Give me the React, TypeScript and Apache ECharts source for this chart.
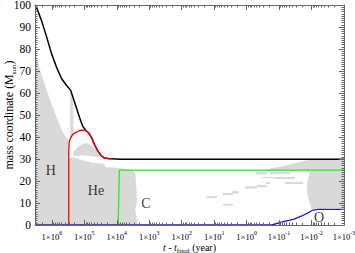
import React, { useEffect, useRef } from 'react';
import * as echarts from 'echarts';

// x value = log10(t - t_final) in years (axis reversed), y = mass coordinate (Msun)
const xMin = -3;
const xMax = 6.52;
const xMajorTicks = [-3, -2, -1, 0, 1, 2, 3, 4, 5, 6];

const totalMass: [number, number][] = [
  [6.52, 99.9], [6.49, 99.6], [6.32, 93.0], [6.16, 85.4], [6.01, 77.9], [5.86, 71.8],
  [5.70, 66.5], [5.55, 63.5], [5.42, 61.2], [5.29, 55.3], [5.14, 48.5], [5.05, 44.9],
  [4.95, 42.9], [4.86, 41.7], [4.77, 39.5], [4.68, 36.3], [4.58, 33.6], [4.49, 31.7],
  [4.40, 30.6], [4.27, 30.2], [4.15, 30.1], [3.90, 29.9], [-3, 29.9],
];
const heCore: [number, number][] = [
  [5.48, 0], [5.48, 34.0], [5.47, 37.2], [5.43, 39.5], [5.35, 41.3], [5.23, 42.4],
  [5.08, 43.1], [4.95, 42.9], [4.86, 41.7], [4.77, 39.5], [4.68, 36.3], [4.58, 33.6],
  [4.49, 31.7], [4.40, 30.6], [4.27, 30.2], [4.15, 30.1],
];
const cCore: [number, number][] = [
  [3.96, 0], [3.92, 24.9], [-3, 24.9],
];
const oCore: [number, number][] = [
  [6.52, 0], [-0.77, 0], [-1.13, 1.5], [-1.44, 2.6], [-1.70, 4.1], [-1.95, 6.0],
  [-2.05, 6.8], [-2.2, 7.1], [-3, 7.1],
];

// convective zones (polygons)
const convH: [number, number][] = [
  [6.52, 77.5], [6.49, 76.6], [6.37, 70.3], [6.22, 63.5], [6.06, 56.7], [5.91, 50.8],
  [5.79, 46.3], [5.69, 42.6], [5.57, 39.9], [5.48, 38.5], [5.48, 0], [6.52, 0],
];
const convKnee: [number, number][] = [
  [5.43, 59.8], [5.40, 61.0], [5.36, 58.5], [5.35, 50.0], [5.34, 40.5], [5.43, 38.8],
];
const convLens: [number, number][] = [
  [5.35, 32.7], [5.20, 35.4], [5.05, 36.7], [4.92, 37.2], [4.77, 35.8], [4.64, 34.0],
  [4.52, 31.7], [4.52, 30.8], [4.71, 31.3], [4.92, 31.7], [5.14, 31.7], [5.32, 31.3],
];
const convHe: [number, number][] = [
  [5.48, 0], [5.48, 30.4], [5.29, 30.4], [4.98, 29.0], [4.68, 28.1], [4.40, 27.7],
  [4.34, 26.3], [4.06, 25.9], [3.75, 25.4], [3.54, 24.9], [3.44, 23.6], [3.41, 18.1],
  [3.38, 11.3], [3.44, 6.8], [3.35, 0],
];
const convLate: [number, number][] = [
  [-0.63, 25.2], [-1.18, 26.8], [-1.64, 28.6], [-1.95, 29.5], [-3, 29.5], [-3, 7.7],
  [-2.57, 7.7], [-2.01, 7.3], [-1.92, 11.3], [-1.86, 15.9], [-1.89, 20.4], [-1.95, 24.0],
  [-1.64, 24.9], [-0.63, 24.9],
];
const convRegions = [convH, convKnee, convLens, convHe, convLate];

// small convective shells: [logt start, logt end, mass low, mass high]
const convDashes: [number, number, number, number][] = [
  [-0.29, -0.63, 23.0, 24.0],
  [0.05, -0.32, 16.6, 17.6],
  [-0.32, -0.63, 17.2, 18.2],
  [-0.60, -0.72, 18.6, 19.6],
  [0.73, 0.42, 13.6, 14.6],
  [0.45, 0.24, 14.4, 15.4],
  [1.22, 0.92, 12.2, 13.2],
  [0.73, 0.42, 8.8, 9.6],
  [-0.72, -1.34, 23.1, 24.0],
  [-0.87, -1.49, 20.9, 21.8],
  [-1.18, -1.74, 18.6, 19.5],
  [-0.47, -0.87, 21.3, 21.8],
];

const regionLabels = [
  { name: 'H', x: 6.03, y: 24.9 },
  { name: 'He', x: 4.64, y: 15.9 },
  { name: 'C', x: 3.10, y: 10.0 },
  { name: 'O', x: -2.23, y: 3.2 },
];

const FONT = 'Liberation Serif';
const GREY = '#d9d9d9';
const AXIS = '#666';

const xMinorTicks: number[] = [];
xMajorTicks.forEach((n) => {
  for (let k = 2; k <= 9; k++) {
    const v = n + Math.log10(k);
    if (v <= xMax) xMinorTicks.push(v);
  }
});

export default function App() {
  const ref = useRef<HTMLDivElement>(null);
  useEffect(() => {
    document.body.style.margin = '0';
    const chart = echarts.init(ref.current!, null, { renderer: 'svg' });
    const xBase = {
      type: 'value' as const,
      min: xMin,
      max: xMax,
      inverse: true,
      gridIndex: 0,
      splitLine: { show: false },
      z: 10,
    };
    const xAxes = [
      {
        ...xBase,
        position: 'bottom',
        axisLine: { show: true, onZero: false, lineStyle: { color: AXIS, width: 1 } },
        axisTick: { show: true, inside: true, length: 5, customValues: xMajorTicks, lineStyle: { color: AXIS } },
        axisLabel: {
          show: true,
          customValues: xMajorTicks,
          margin: 5,
          formatter: (v: number) => `{b|1×10}{s|${Math.round(v)}}`,
          rich: {
            b: { fontFamily: FONT, fontSize: 8.5, color: '#000', lineHeight: 13 },
            s: { fontFamily: FONT, fontSize: 6, color: '#000', verticalAlign: 'top', lineHeight: 13 },
          },
        },
        name: '{i|t} - {i|t}{sub|final} (year)',
        nameLocation: 'middle',
        nameGap: 15,
        nameMoveOverlap: false,
        nameTextStyle: {
          fontFamily: FONT,
          fontSize: 10,
          color: '#000',
          rich: {
            i: { fontFamily: FONT, fontSize: 10, fontStyle: 'italic', color: '#000', lineHeight: 14 },
            sub: { fontFamily: FONT, fontSize: 7, color: '#000', verticalAlign: 'bottom', lineHeight: 14 },
          },
        },
      },
      {
        ...xBase,
        position: 'bottom',
        axisLine: { show: false, onZero: false },
        axisTick: { show: true, inside: true, length: 2.5, customValues: xMinorTicks, lineStyle: { color: AXIS } },
        axisLabel: { show: false },
      },
      {
        ...xBase,
        position: 'top',
        axisLine: { show: true, onZero: false, lineStyle: { color: AXIS, width: 1 } },
        axisTick: { show: true, inside: true, length: 5, customValues: xMajorTicks, lineStyle: { color: AXIS } },
        axisLabel: { show: false },
      },
      {
        ...xBase,
        position: 'top',
        axisLine: { show: false, onZero: false },
        axisTick: { show: true, inside: true, length: 2.5, customValues: xMinorTicks, lineStyle: { color: AXIS } },
        axisLabel: { show: false },
      },
    ];
    const yBase = {
      type: 'value' as const,
      min: 0,
      max: 100,
      interval: 10,
      splitLine: { show: false },
      minorTick: { show: true, splitNumber: 10, length: 2.5, lineStyle: { color: AXIS } },
      axisTick: { show: true, inside: true, length: 5, lineStyle: { color: AXIS } },
      axisLine: { show: true, onZero: false, lineStyle: { color: AXIS, width: 1 } },
      z: 10,
    };
    const yAxes = [
      {
        ...yBase,
        position: 'left',
        axisLabel: { show: true, fontFamily: FONT, fontSize: 11.5, color: '#000', margin: 4 },
        name: 'mass coordinate (M{s|sun})',
        nameLocation: 'middle',
        nameGap: 18,
        nameMoveOverlap: false,
        nameTextStyle: {
          fontFamily: FONT,
          fontSize: 12,
          color: '#000',
          rich: {
            s: { fontFamily: FONT, fontSize: 7, color: '#000', verticalAlign: 'bottom', lineHeight: 17 },
          },
        },
      },
      {
        ...yBase,
        position: 'right',
        axisLabel: { show: false },
      },
    ];

    const lineSeries = (data: [number, number][], color: string, width: number, z: number) => ({
      type: 'line',
      xAxisIndex: 0,
      yAxisIndex: 0,
      data,
      symbol: 'none',
      showSymbol: false,
      lineStyle: { color, width },
      z,
      silent: true,
    });

    chart.setOption({
      animation: false,
      grid: { left: 35, right: 11, top: 5, bottom: 28, containLabel: false, outerBoundsMode: 'none' },
      xAxis: xAxes,
      yAxis: yAxes,
      series: [
        {
          type: 'custom',
          xAxisIndex: 0,
          yAxisIndex: 0,
          z: 1,
          silent: true,
          clip: true,
          data: convRegions.map((r, i) => [r[0][0], r[0][1], i]),
          encode: { x: 0, y: 1 },
          renderItem: (params: any, api: any) => {
            const poly = convRegions[params.dataIndex];
            return {
              type: 'polygon',
              shape: { points: poly.map((p) => api.coord(p)) },
              style: { fill: GREY, stroke: GREY, lineWidth: 0.5 },
            };
          },
        },
        {
          type: 'custom',
          xAxisIndex: 0,
          yAxisIndex: 0,
          z: 1,
          silent: true,
          clip: true,
          data: convDashes.map((d) => [d[0], d[2]]),
          encode: { x: 0, y: 1 },
          renderItem: (params: any, api: any) => {
            const d = convDashes[params.dataIndex];
            const p1 = api.coord([d[0], d[3]]);
            const p2 = api.coord([d[1], d[2]]);
            return {
              type: 'rect',
              shape: {
                x: Math.min(p1[0], p2[0]),
                y: Math.min(p1[1], p2[1]),
                width: Math.abs(p2[0] - p1[0]),
                height: Math.abs(p2[1] - p1[1]),
              },
              style: { fill: GREY },
            };
          },
        },
        lineSeries(totalMass, '#000000', 1.5, 3),
        lineSeries(heCore, '#ff0000', 1.3, 4),
        lineSeries(cCore, '#22ee22', 1.3, 4),
        lineSeries(oCore, '#1a1acc', 1.3, 5),
        {
          type: 'scatter',
          xAxisIndex: 0,
          yAxisIndex: 0,
          symbolSize: 1,
          itemStyle: { color: 'rgba(0,0,0,0)' },
          z: 6,
          silent: true,
          data: regionLabels.map((l) => ({ name: l.name, value: [l.x, l.y] })),
          label: {
            show: true,
            position: 'inside',
            formatter: '{b}',
            fontFamily: FONT,
            fontSize: 14,
            color: '#000',
          },
        },
      ],
    });
    return () => chart.dispose();
  }, []);
  return <div ref={ref} style={{ width: 355, height: 253 }} />;
}
